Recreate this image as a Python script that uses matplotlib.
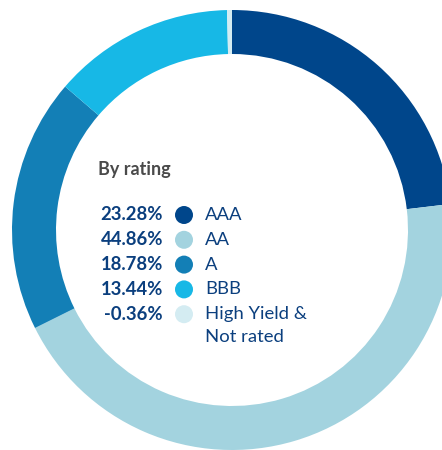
import matplotlib.pyplot as plt
from matplotlib.patches import Circle

labels = ["AAA", "AA", "A", "BBB", "High Yield &\nNot rated"]
values = [23.28, 44.86, 18.78, 13.44, -0.36]
colors = ["#00468b", "#a3d3df", "#137fb6", "#17b8e6", "#d4ecf2"]

navy = "#0b3f7e"
H = 450

fig = plt.figure(figsize=(4.42, 4.5), dpi=100)
ax = fig.add_axes([0, 0, 1, 1])

# ring is cut off on the right in the original
sizes = [abs(v) for v in values]
ax.pie(sizes, colors=colors, startangle=90, counterclock=False,
       center=(232, H - 230), radius=220, frame=True,
       wedgeprops=dict(width=44, linewidth=0))
ax.set_xlim(0, 442)
ax.set_ylim(0, H)
ax.set_aspect("equal")
ax.axis("off")

ax.text(98, H - 170, "By rating", fontsize=13, fontweight="bold",
        color="#4a4a4a", family="Lato", va="center")

y0 = 215
step = 24.8
for i, (lab, v, c) in enumerate(zip(labels, values, colors)):
    y = y0 + i * step
    ax.text(163, H - y, f"{v:.2f}%", fontsize=13.3, fontweight="bold", color=navy,
            family="Lato", ha="right", va="center")
    ax.add_patch(Circle((184, H - y), 9, color=c, lw=0))
    for k, part in enumerate(lab.split("\n")):
        ax.text(205, H - y - k * 23, part, fontsize=13.3, color=navy,
                family="Lato", va="center")

fig.savefig("out.png", dpi=100)
